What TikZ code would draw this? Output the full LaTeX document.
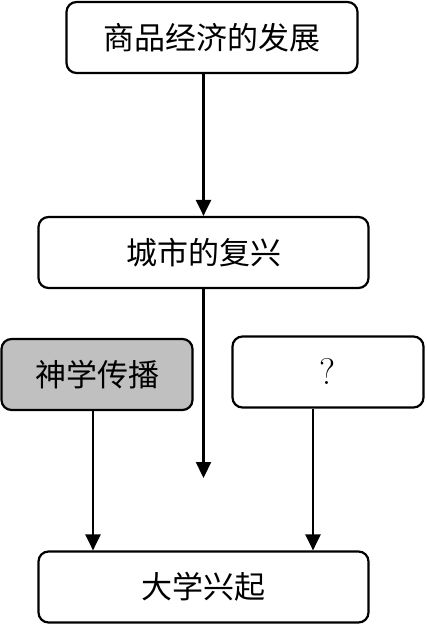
\documentclass[tikz,border=0pt]{standalone}
\usepackage{fontspec}
\newfontfamily\cjk{Noto Sans CJK SC}
\usepackage{tikz}
\usetikzlibrary{arrows.meta,positioning}
\definecolor{boxgray}{HTML}{C0C0C0}

\begin{document}
\begin{tikzpicture}[x=1pt,y=-1pt,font=\cjk\fontsize{31}{36}\selectfont,
 stagebox/.style={draw,line width=2.2pt,rounded corners=10pt,fill=white,align=center,minimum height=71pt,inner sep=0pt},
 wire/.style={-{Triangle[length=16pt,width=15pt]},line width=2.2pt}]
\useasboundingbox (0,0) rectangle (426,624);
\node[stagebox,minimum width=291pt] (economy) at (212,37.5) {商品经济的发展};
\node[stagebox,minimum width=330pt] (city) at (203.5,252.5) {城市的复兴};
\node[stagebox,minimum width=191pt,fill=boxgray] (theology) at (97,374.5) {神学传播};
\node[stagebox,minimum width=191pt] (unknown) at (328,372) {\rmfamily\fontsize{37}{40}\selectfont ?};
\node[stagebox,minimum width=330pt] (university) at (203.5,587) {大学兴起};
\coordinate (cityend) at (203.5,478);
\draw[wire] (economy.south -| city.north) -- (city.north);
\draw[wire] (city.south) -- (cityend);
\draw[wire] ([xshift=-4pt]theology.south) -- ([xshift=-4pt]theology.south |- university.north);
\draw[wire] ([xshift=-15pt]unknown.south) -- ([xshift=-15pt]unknown.south |- university.north);
\end{tikzpicture}
\end{document}
